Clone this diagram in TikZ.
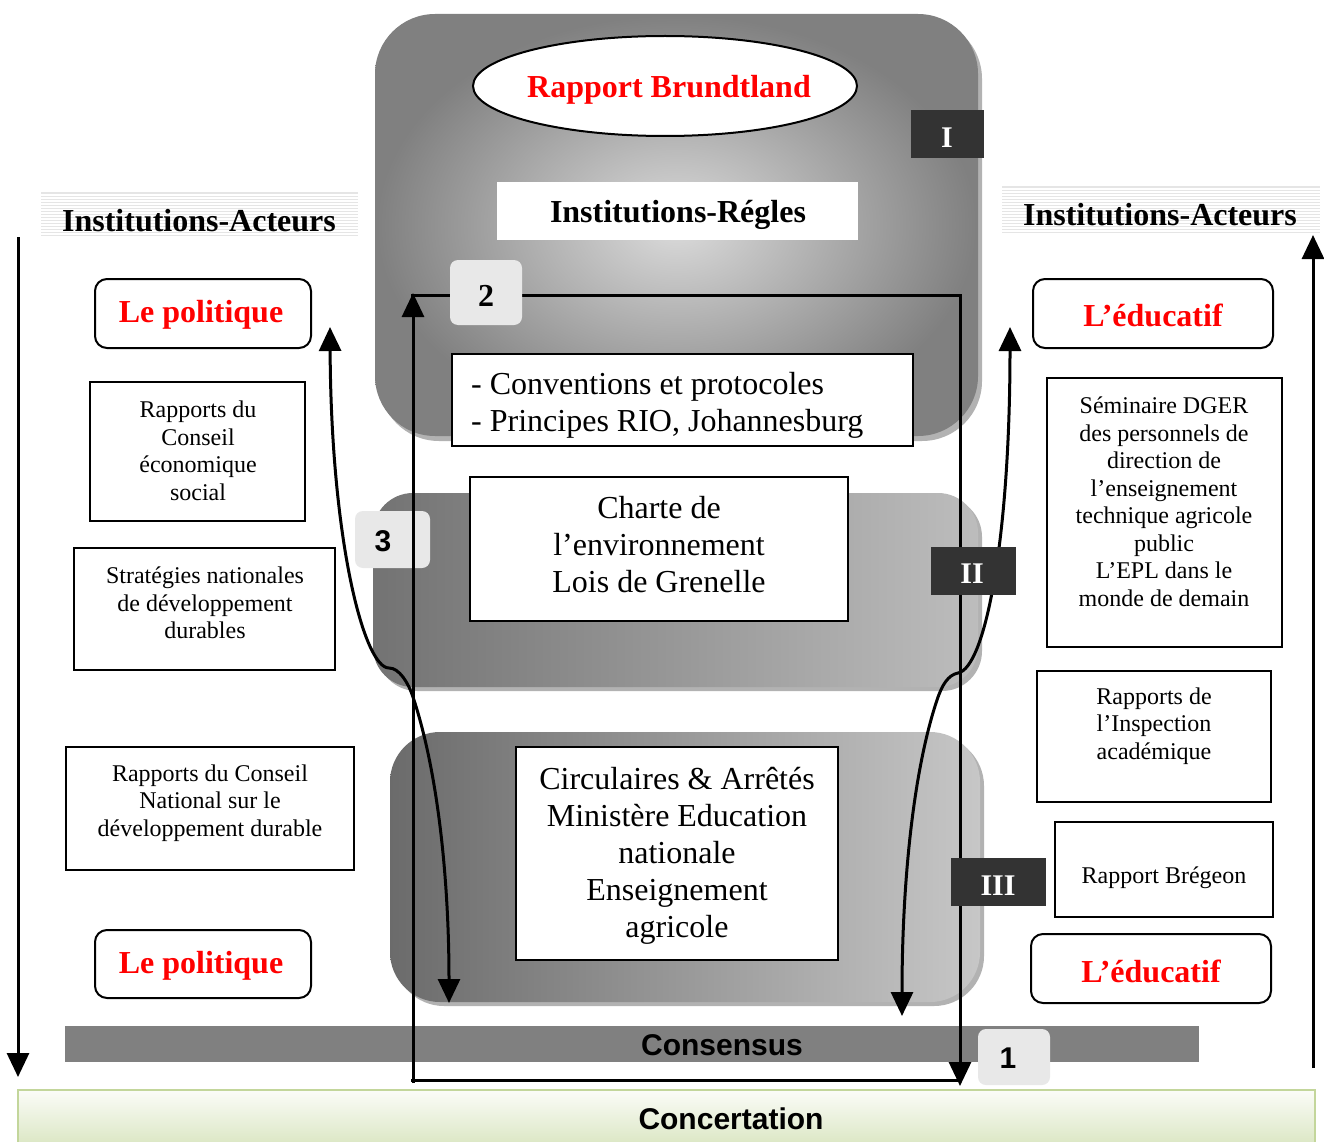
\documentclass[tikz,border=0pt]{standalone}
\usepackage{fontspec}
\setmainfont{Liberation Serif}
\newfontfamily\arialfont{Liberation Sans}
\usetikzlibrary{arrows.meta,shapes.geometric,fit}
\definecolor{redtxt}{RGB}{255,0,0}
\definecolor{romanbg}{RGB}{51,51,51}
\definecolor{numbg}{RGB}{232,232,232}
\definecolor{consbg}{RGB}{128,128,128}
\definecolor{concline}{RGB}{195,214,155}
\definecolor{concfill}{RGB}{215,228,189}
\definecolor{concfilltop}{RGB}{251,252,248}
\tikzset{
  bigtxt/.style={font=\fontsize{32}{37}\selectfont, align=center, inner sep=0pt, yshift=-3.5pt},
  bigbold/.style={font=\fontsize{32}{37}\selectfont\bfseries, align=center, inner sep=0pt, yshift=-3pt},
  redbold/.style={bigbold, text=redtxt},
  smalltxt/.style={font=\fontsize{24}{27.5}\selectfont, align=center, inner sep=0pt, yshift=-3pt},
  sansbold/.style={font={\arialfont\fontsize{30}{34}\selectfont\bfseries}, inner sep=0pt},
  framebox/.style={draw=black, line width=2pt, fill=white, inner sep=0pt},
  roundbox/.style={framebox, rounded corners=12pt},
  plainwhite/.style={fill=white, inner sep=0pt},
  numbox/.style={fill=numbg, rounded corners=8pt, inner sep=0pt},
  romanbox/.style={fill=romanbg, inner sep=0pt},
  romantxt/.style={font=\fontsize{30}{34}\selectfont\bfseries, text=white, inner sep=0pt},
  headbox/.style={fill=black!10, inner sep=0pt, path picture={
      \foreach \k in {1,...,16}{
        \draw[white,line width=1.3pt] ([yshift={-3pt*\k}]path picture bounding box.north west) -- ([yshift={-3pt*\k}]path picture bounding box.north east);}}},
  arrline/.style={line width=3pt, -{Triangle[length=24pt,width=22pt]}},
  dblarr/.style={line width=3pt, {Triangle[length=24pt,width=22pt]}-{Triangle[length=24pt,width=22pt]}},
  plainline/.style={line width=3pt},
  panelshadow/.style={fill=black!30},
}
\begin{document}
\begin{tikzpicture}[x=1pt,y=-1pt]
\useasboundingbox (0,0) rectangle (1324,1142);
\fill[white] (0,0) rectangle (1324,1142);

% ---------- panels ----------
\fill[panelshadow, rounded corners=60pt] (379,19) rectangle (982,441);
\shade[inner color=black!14, outer color=black!50, rounded corners=60pt] (375,14) rectangle (978,436);
\fill[panelshadow, rounded corners=40pt] (377,497) rectangle (982,691);
\shade[left color=black!55, right color=black!26, rounded corners=40pt] (373,493) rectangle (978,687);
\fill[panelshadow, rounded corners=50pt] (394,736) rectangle (984,1006);
\shade[left color=black!58, right color=black!22, rounded corners=50pt] (390,732) rectangle (980,1002);

% ---------- central contents ----------
\node[ellipse, draw=black, line width=2pt, fill=white, minimum width=384pt, minimum height=100pt, inner sep=0pt] (brund) at (665,86) {};
\node[redbold] (brundt) at (669,87) {Rapport Brundtland};
\node[plainwhite, fit={(497,182) (858,240)}] (regles) {};
\node[bigbold] (reglest) at (678,212) {Institutions-Régles};
\node[framebox, fit={(452,354) (913,446)}] (conv) {};
\node[bigtxt, anchor=west, align=left] (convt) at (471,402) {- Conventions et protocoles\\- Principes RIO, Johannesburg};
\node[framebox, fit={(470,477) (848,621)}] (charte) {};
\node[bigtxt] (chartet) at (659,541) {Charte de\\l’environnement\\Lois de Grenelle};
\node[framebox, fit={(516,747) (838,960)}] (circ) {};
\node[bigtxt] (circt) at (677,852) {Circulaires \& Arrêtés\\Ministère Education\\nationale\\Enseignement\\agricole};

% ---------- bottom bars ----------
\node[fill=consbg, inner sep=0pt, fit={(65,1026) (1199,1062)}] (cons) {};
\node[sansbold] (const) at (722,1045) {Consensus};
\node[draw=concline, line width=2pt, top color=concfilltop, bottom color=concfill, inner sep=0pt, fit={(18,1090) (1315,1152)}] (conc) {};
\node[sansbold] (conct) at (731,1119) {Concertation};

% ---------- loop ----------
\coordinate (lpA) at (413,1083);
\coordinate (lpB) at (413,293);
\coordinate (lpC) at (411,295);
\coordinate (lpD) at (960,295);
\coordinate (lpE) at (960,1086);
\coordinate (lpF) at (411,1080);
\coordinate (lpG) at (958,1080);
% number 3 box sits below the loop line
\node[numbox, fit={(355,511) (430,568)}] (n3) {};
\node[sansbold] (n3t) at (383,541) {3};
\draw[arrline] (lpA) -- (lpB);
\draw[arrline] (lpC) -- (lpD) -- (lpE);
\draw[plainline] (lpF) -- (lpG);

% ---------- curved double arrows ----------
\coordinate (clA) at (330,327);
\coordinate (clB) at (449,1003);
\coordinate (crA) at (1010,327);
\coordinate (crB) at (902,1016);
\draw[dblarr] (clA) .. controls (331,540) and (364,668) .. (389,668)
   .. controls (399,668) and (408,682) .. (413,697)
   .. controls (438,772) and (449,880) .. (clB);
\draw[dblarr] (crA) .. controls (1010,540) and (985,668) .. (958,673)
   .. controls (948,675) and (942,685) .. (937,700)
   .. controls (912,775) and (902,890) .. (crB);

% ---------- long side arrows ----------
\coordinate (laA) at (18,237);
\coordinate (laB) at (18,1077);
\coordinate (raA) at (1313,1068);
\coordinate (raB) at (1313,235);
\draw[arrline] (laA) -- (laB);
\draw[arrline] (raA) -- (raB);

% ---------- number boxes ----------
\node[numbox, fit={(450,260) (522,325)}] (n2) {};
\node[bigbold] (n2t) at (486,293) {2};
\node[numbox, fit={(978,1029) (1050,1085)}] (n1) {};
\node[sansbold] (n1t) at (1008,1058) {1};

% ---------- roman numerals ----------
\node[romanbox, fit={(911,110) (984,158)}] (r1) {};
\node[romantxt] (r1t) at (947,138) {I};
\node[romanbox, fit={(931,547) (1016,595)}] (r2) {};
\node[romantxt] (r2t) at (972,574) {II};
\node[romanbox, fit={(951,858) (1046,906)}] (r3) {};
\node[romantxt] (r3t) at (998,886) {III};

% ---------- headings ----------
\node[headbox, fit={(41,192) (358,238)}] (hl) {};
\node[bigbold] (hlt) at (199,218) {Institutions-Acteurs};
\node[headbox, fit={(1002,186) (1320,233)}] (hr) {};
\node[bigbold] (hrt) at (1160,212) {Institutions-Acteurs};

% ---------- left column ----------
\node[roundbox, fit={(95,279) (311,348)}] (pol1) {};
\node[redbold] (pol1t) at (201,312) {Le politique};
\node[framebox, fit={(90,382) (305,521)}] (ces) {};
\node[smalltxt] (cest) at (198,448) {Rapports du\\Conseil\\économique\\social};
\node[framebox, fit={(74,548) (335,670)}] (snd) {};
\node[smalltxt] (sndt) at (205,600) {Stratégies nationales\\de développement\\durables};
\node[framebox, fit={(66,747) (354,870)}] (cndd) {};
\node[smalltxt] (cnddt) at (210,800) {Rapports du Conseil\\National sur le\\développement durable};
\node[roundbox, fit={(95,930) (311,998)}] (pol2) {};
\node[redbold] (pol2t) at (201,963) {Le politique};

% ---------- right column ----------
\node[roundbox, fit={(1033,279) (1273,348)}] (edu1) {};
\node[redbold] (edu1t) at (1153,312) {L’éducatif};
\node[framebox, fit={(1047,378) (1282,647)}] (sem) {};
\node[smalltxt] (semt) at (1164,499) {Séminaire DGER\\des personnels de\\direction de\\l’enseignement\\technique agricole\\public\\L’EPL dans le\\monde de demain};
\node[framebox, fit={(1037,671) (1271,802)}] (insp) {};
\node[smalltxt] (inspt) at (1154,723) {Rapports de\\l’Inspection\\académique};
\node[framebox, fit={(1055,822) (1273,917)}] (breg) {};
\node[smalltxt] (bregt) at (1164,875) {Rapport Brégeon};
\node[roundbox, fit={(1031,934) (1271,1003)}] (edu2) {};
\node[redbold] (edu2t) at (1151,968) {L’éducatif};
\end{tikzpicture}
\end{document}
